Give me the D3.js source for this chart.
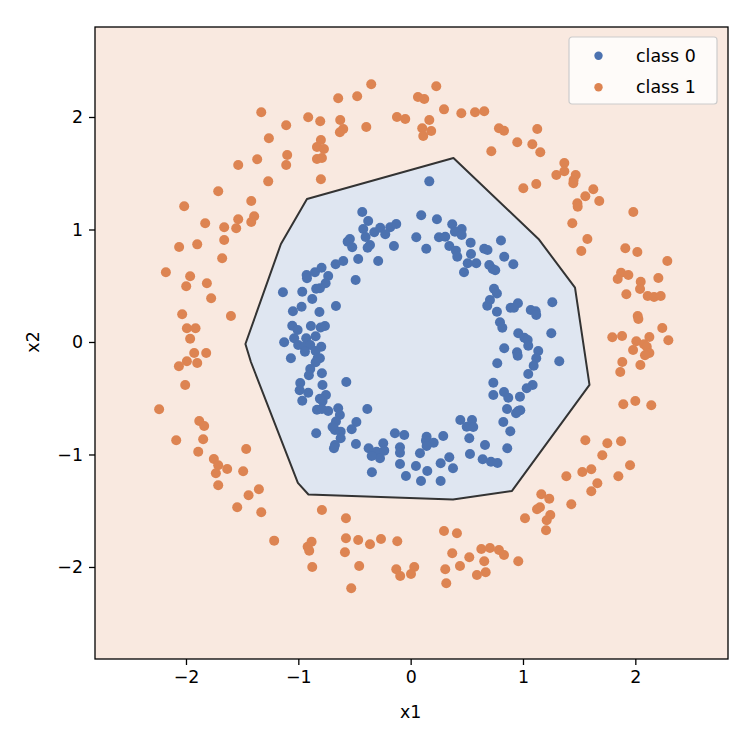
<!DOCTYPE html>
<html>
<head>
<meta charset="utf-8">
<script src="https://cdn.jsdelivr.net/npm/d3@7"></script>
<style>
  body { margin: 0; background: #fff; }
  text { font-family: "DejaVu Sans", sans-serif; fill: #000; }
</style>
</head>
<body>
<div id="chart"></div>
<script>
// points of class 0 (inner ring), [x1, x2]
const class0 = [
  [0.166, 1.428], [-0.431, 1.156], [-0.378, 1.076], [-0.422, 1.004], [-0.324, 0.975],
  [-0.271, 1.016], [-0.401, 0.933], [-0.541, 0.916], [-0.561, 0.892], [-0.362, 0.862],
  [-0.383, 0.838], [-0.520, 0.842], [-0.182, 1.020], [-0.128, 1.049], [-0.226, 0.957],
  [-0.149, 0.853], [0.094, 1.126], [0.234, 1.091], [0.050, 0.931], [0.370, 1.046],
  [0.454, 1.004], [0.394, 0.980], [0.454, 0.951], [0.252, 0.931], [0.308, 0.936],
  [0.534, 0.883], [0.344, 0.853], [0.139, 0.829], [0.655, 0.829], [0.804, 0.902],
  [0.403, 0.812], [0.415, 0.758], [0.537, 0.782], [0.584, 0.700], [0.508, 0.700],
  [0.475, 0.620], [0.684, 0.818], [0.700, 0.684], [0.730, 0.649], [0.753, 0.637],
  [-0.668, 0.691], [-0.600, 0.720], [-0.467, 0.738], [-0.289, 0.720], [-0.734, 0.587],
  [-0.757, 0.522], [-0.490, 0.551], [-0.808, 0.477], [0.742, 0.474], [0.768, 0.431],
  [0.706, 0.373], [0.682, 0.323], [0.768, 0.269], [-0.665, 0.320], [-0.763, 0.142],
  [-0.796, -0.042], [-0.808, -0.145], [0.771, -0.189], [-0.573, -0.356], [0.736, -0.362],
  [0.736, -0.471], [-0.754, -0.471], [-0.784, -0.524], [-0.734, -0.613], [-0.645, -0.589],
  [-0.630, -0.649], [-0.665, -0.707], [-0.483, -0.711], [-0.386, -0.596], [0.442, -0.693],
  [0.546, -0.693], [-0.926, 0.596], [-0.852, 0.620], [-0.793, 0.660], [-0.923, 0.566],
  [-1.137, 0.442], [-0.965, 0.447], [-0.841, 0.474], [-0.876, 0.382], [-0.971, 0.314],
  [-1.048, 0.273], [-0.812, 0.267], [-1.054, 0.145], [-1.006, 0.107], [-0.888, 0.142],
  [-0.801, 0.129], [-1.037, 0.033], [-0.930, 0.033], [-0.846, 0.051], [-1.126, -0.003],
  [-1.001, -0.027], [-0.947, -0.042], [-0.894, -0.027], [-0.941, -0.086], [-0.846, -0.080],
  [-1.066, -0.145], [-0.828, -0.145], [-0.846, -0.180], [-0.894, -0.240], [-0.906, -0.296],
  [-0.790, -0.278], [-0.983, -0.364], [-0.988, -0.429], [-0.912, -0.451], [-0.965, -0.522],
  [-0.785, -0.382], [-0.808, -0.504], [-0.834, -0.602], [-0.790, -0.596], [0.833, 0.758],
  [0.914, 0.691], [0.955, 0.344], [0.890, 0.305], [0.920, 0.305], [1.069, 0.284],
  [1.113, 0.273], [1.118, 0.240], [1.261, 0.353], [0.795, 0.175], [0.816, 0.127],
  [0.958, 0.077], [1.012, 0.038], [1.042, 0.018], [1.047, -0.033], [1.252, 0.077],
  [0.833, -0.056], [0.947, -0.092], [0.953, -0.122], [1.136, -0.080], [1.118, -0.145],
  [1.095, -0.211], [1.323, -0.172], [1.047, -0.284], [1.086, -0.382], [1.033, -0.412],
  [0.831, -0.444], [0.869, -0.495], [0.973, -0.486], [0.858, -0.596], [0.958, -0.613],
  [0.976, -0.607], [0.938, -0.634], [0.825, -0.711], [-0.841, -0.812], [-0.674, -0.782],
  [-0.695, -0.756], [-0.623, -0.797], [-0.525, -0.776], [-0.623, -0.856], [-0.674, -0.916],
  [-0.683, -0.945], [-0.487, -0.907], [-0.374, -0.945], [-0.333, -0.984], [-0.303, -0.975],
  [-0.273, -1.034], [-0.347, -1.013], [-0.244, -0.900], [-0.235, -0.966], [-0.345, -1.158],
  [-0.140, -0.812], [-0.057, -0.827], [-0.095, -0.936], [-0.095, -0.984], [-0.095, -1.084],
  [-0.042, -1.191], [0.142, -0.842], [0.136, -0.877], [0.205, -0.895], [0.142, -0.924],
  [0.290, -0.836], [0.083, -0.989], [0.047, -1.102], [0.148, -1.147], [0.092, -1.236],
  [0.267, -1.078], [0.344, -1.025], [0.377, -1.123], [0.267, -1.236], [0.499, -0.753],
  [0.522, -0.856], [0.662, -0.916], [0.528, -0.996], [0.641, -1.043], [0.715, -1.064],
  [0.773, -1.076], [0.887, -0.794], [0.860, -0.945], [0.557, -0.756]
];

// points of class 1 (outer ring), [x1, x2]
const class1 = [
  [-1.330, 2.042], [-0.912, 1.997], [-0.805, 1.962], [-1.108, 1.926], [-1.262, 1.811],
  [-0.799, 1.796], [-0.834, 1.733], [-0.772, 1.716], [-1.099, 1.662], [-1.366, 1.624],
  [-1.535, 1.573], [-1.108, 1.573], [-0.834, 1.627], [-0.790, 1.636], [-1.268, 1.428],
  [-0.799, 1.446], [-1.713, 1.340], [-2.016, 1.206], [-1.419, 1.253], [-1.393, 1.117],
  [-1.419, 1.067], [-1.535, 1.091], [-1.553, 1.011], [-1.829, 1.055], [-1.660, 1.020],
  [-1.660, 0.907], [-1.900, 0.868], [-2.061, 0.844], [-0.351, 2.291], [-0.645, 2.166],
  [-0.476, 2.184], [0.228, 2.273], [0.065, 2.178], [0.121, 2.160], [0.297, 2.068],
  [0.451, 2.033], [0.573, 2.042], [0.655, 2.051], [-0.627, 1.973], [-0.600, 1.893],
  [-0.630, 1.864], [-0.395, 1.911], [-0.122, 2.000], [-0.048, 1.982], [0.166, 1.973],
  [0.103, 1.900], [0.183, 1.876], [0.112, 1.831], [0.718, 1.695], [0.786, 1.900],
  [0.831, 1.878], [1.127, 1.893], [0.949, 1.775], [1.083, 1.757], [1.154, 1.686],
  [1.368, 1.591], [1.368, 1.517], [1.297, 1.484], [1.469, 1.484], [1.451, 1.440],
  [1.448, 1.411], [1.003, 1.366], [1.118, 1.404], [1.626, 1.357], [1.555, 1.295],
  [1.679, 1.253], [1.484, 1.233], [1.487, 1.203], [1.982, 1.156], [1.439, 1.055],
  [1.573, 0.916], [1.519, 0.809], [1.911, 0.833], [2.018, 0.800], [2.285, 0.720],
  [1.873, 0.616], [1.938, 0.596], [1.843, 0.560], [2.205, 0.569], [2.048, 0.536],
  [2.042, 0.471], [1.920, 0.424], [2.110, 0.409], [2.167, 0.400], [2.226, 0.409],
  [2.021, 0.231], [2.027, 0.204], [2.240, 0.124], [1.795, 0.042], [1.882, 0.053],
  [2.125, 0.044], [2.009, 0.006], [2.077, -0.020], [1.980, -0.071], [2.102, -0.042],
  [2.125, -0.098], [2.086, -0.118], [2.294, 0.015], [1.884, -0.178], [2.045, -0.204],
  [1.866, -0.267], [1.893, -0.554], [2.000, -0.524], [2.142, -0.563], [-1.678, 0.744],
  [-2.179, 0.620], [-1.963, 0.584], [-1.998, 0.495], [-1.814, 0.522], [-1.776, 0.388],
  [-2.034, 0.246], [-1.600, 0.231], [-1.992, 0.122], [-1.915, 0.122], [-1.963, 0.029],
  [-1.927, -0.098], [-1.820, -0.098], [-1.992, -0.172], [-1.900, -0.187], [-2.063, -0.216],
  [-2.007, -0.382], [-2.239, -0.598], [-1.882, -0.702], [-1.838, -0.747], [-2.087, -0.874],
  [-1.847, -0.865], [-1.891, -0.975], [-1.752, -1.040], [-1.713, -1.096], [-1.734, -1.167],
  [-1.633, -1.129], [-1.713, -1.274], [-1.464, -0.951], [-1.491, -1.149], [-1.351, -1.309],
  [-1.443, -1.363], [-1.544, -1.469], [-1.330, -1.514], [-0.790, -1.493], [-1.215, -1.766],
  [-0.882, -1.775], [-0.917, -1.820], [-0.903, -1.855], [-0.876, -2.000], [-0.576, -1.567],
  [-0.576, -1.745], [-0.467, -1.760], [-0.362, -1.798], [-0.264, -1.751], [-0.119, -1.772],
  [-0.585, -1.869], [-0.458, -1.991], [-0.128, -2.020], [-0.093, -2.080], [0.032, -2.000],
  [0.003, -2.062], [-0.529, -2.189], [0.297, -1.680], [0.412, -1.700], [0.370, -1.878],
  [0.522, -1.914], [0.439, -1.991], [0.308, -2.020], [0.317, -2.145], [0.629, -1.840],
  [0.706, -1.831], [0.655, -1.949], [0.590, -2.071], [0.668, -2.047], [1.555, -0.874],
  [1.751, -0.900], [1.873, -0.883], [1.706, -1.007], [1.953, -1.096], [1.386, -1.194],
  [1.528, -1.156], [1.608, -1.132], [1.849, -1.194], [1.662, -1.256], [1.608, -1.327],
  [1.163, -1.354], [1.234, -1.393], [1.430, -1.443], [1.125, -1.487], [1.151, -1.469],
  [1.243, -1.538], [1.211, -1.585], [1.205, -1.674], [1.018, -1.567], [0.786, -1.849],
  [0.831, -1.893], [0.958, -1.949]
];

// decision boundary polygon (class 0 region), [x1, x2]
const boundary = [
  [0.381, 1.636], [-0.923, 1.271], [-1.155, 0.871], [-1.471, -0.018], [-1.422, -0.178],
  [-1.004, -1.253], [-0.910, -1.356], [0.377, -1.400], [0.902, -1.324], [1.592, -0.382],
  [1.463, 0.484], [1.138, 0.916]
];

const classNames = ['class 0', 'class 1'];
const classColors = ['#4c72b0', '#dd8452'];
const ticks = [-2, -1, 0, 1, 2];
const xDomain = [-2.81, 2.825];
const yDomain = [-2.818, 2.8];

// plot box inside the 750x750 page
const margin = { top: 27, right: 22, bottom: 91, left: 95 };
const width = 750;
const height = 750;
const innerW = width - margin.left - margin.right;
const innerH = height - margin.top - margin.bottom;

const svg = d3.select('#chart')
  .append('svg')
    .attr('width', width)
    .attr('height', height);

const g = svg.append('g')
  .attr('transform', `translate(${margin.left},${margin.top})`);

const x = d3.scaleLinear().domain(xDomain).range([0, innerW]);
const y = d3.scaleLinear().domain(yDomain).range([innerH, 0]);

g.append('clipPath').attr('id', 'plotClip')
  .append('rect').attr('width', innerW).attr('height', innerH);

// class 1 region fills the whole axes
g.append('rect')
  .attr('width', innerW)
  .attr('height', innerH)
  .attr('fill', '#fff');
g.append('rect')
  .attr('width', innerW)
  .attr('height', innerH)
  .attr('fill', classColors[1])
  .attr('fill-opacity', 0.18);

// class 0 region and the boundary line
const line = d3.line().x(d => x(d[0])).y(d => y(d[1])).curve(d3.curveLinearClosed);
g.append('path')
  .attr('d', line(boundary))
  .attr('fill', '#fff');
g.append('path')
  .attr('d', line(boundary))
  .attr('fill', classColors[0])
  .attr('fill-opacity', 0.18)
  .attr('stroke', '#333')
  .attr('stroke-width', 2)
  .attr('stroke-linejoin', 'round');

// scatter points
[class0, class1].forEach((pts, i) => {
  g.append('g')
    .attr('clip-path', 'url(#plotClip)')
    .selectAll('circle')
    .data(pts)
    .join('circle')
      .attr('cx', d => x(d[0]))
      .attr('cy', d => y(d[1]))
      .attr('r', 5)
      .attr('fill', classColors[i]);
});

// axes
const fmt = d => (d < 0 ? '\u2212' + Math.abs(d) : String(d));
const xAxis = g.append('g')
  .attr('transform', `translate(0,${innerH})`)
  .call(d3.axisBottom(x).tickValues(ticks).tickFormat(fmt).tickSize(6).tickPadding(6));
const yAxis = g.append('g')
  .call(d3.axisLeft(y).tickValues(ticks).tickFormat(fmt).tickSize(6).tickPadding(6));
[xAxis, yAxis].forEach(a => {
  a.select('.domain').remove();
  a.selectAll('line').attr('stroke', '#000').attr('stroke-width', 1.3);
  a.selectAll('text').attr('font-size', 17.4).attr('font-family', 'DejaVu Sans');
});

// frame
g.append('rect')
  .attr('width', innerW)
  .attr('height', innerH)
  .attr('fill', 'none')
  .attr('stroke', '#000')
  .attr('stroke-width', 1.3);

// axis labels
svg.append('text')
  .attr('x', margin.left + x(0))
  .attr('y', 718)
  .attr('text-anchor', 'middle')
  .attr('font-size', 17.4)
  .text('x1');
svg.append('text')
  .attr('transform', `translate(39,${margin.top + y(0)}) rotate(-90)`)
  .attr('text-anchor', 'middle')
  .attr('font-size', 17.4)
  .text('x2');

// legend
const legend = svg.append('g').attr('transform', 'translate(569,37)');
legend.append('rect')
  .attr('width', 148)
  .attr('height', 67)
  .attr('rx', 3)
  .attr('fill', '#fff')
  .attr('fill-opacity', 0.8)
  .attr('stroke', '#ccc')
  .attr('stroke-width', 1.2);
classNames.forEach((name, i) => {
  legend.append('circle')
    .attr('cx', 29.5)
    .attr('cy', 18.7 + i * 31.6)
    .attr('r', 4.2)
    .attr('fill', classColors[i]);
  legend.append('text')
    .attr('x', 67)
    .attr('y', 24.7 + i * 31.6)
    .attr('font-size', 17.4)
    .text(name);
});
</script>
</body>
</html>
